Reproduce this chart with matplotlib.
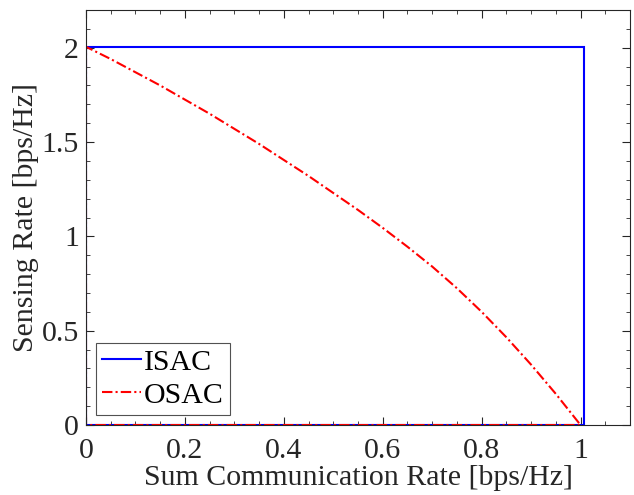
import numpy as np
import matplotlib.pyplot as plt

plt.rcParams['font.family'] = ['Liberation Serif', 'DejaVu Serif']

# ISAC region corner
isac_comm = 1.006
isac_sens = 2.005

# OSAC boundary
osac_comm = [0.0, 0.05, 0.1, 0.15, 0.2, 0.25, 0.3, 0.35, 0.4, 0.45, 0.5,
             0.55, 0.6, 0.65, 0.7, 0.75, 0.8, 0.85, 0.9, 0.95, 1.0]
osac_sens = [2.005, 1.94, 1.87, 1.80, 1.725, 1.65, 1.57, 1.49, 1.405, 1.32, 1.23,
             1.14, 1.045, 0.945, 0.84, 0.725, 0.60, 0.465, 0.32, 0.165, 0.0]

xticks = [0, 0.2, 0.4, 0.6, 0.8, 1]
yticks = [0, 0.5, 1, 1.5, 2]

fs = 21.5

fig = plt.figure(figsize=(6.34, 4.95), dpi=100)
ax = fig.add_axes([86/634, 70/495, (630-86)/634, (425-10)/495])

# regions closed along the axes
ix = [0, 0, isac_comm, isac_comm, 0]
iy = [0, isac_sens, isac_sens, 0, 0]
ax.plot(ix, iy, color='#0000ff', lw=1.5, label='ISAC', solid_joinstyle='miter')

ox = [0] + osac_comm + [0]
oy = [0] + osac_sens + [0]
ax.plot(ox, oy, color='#ff0000', lw=1.5, ls=(0, (5, 1.5, 1, 1.5)), label='OSAC')

ax.set_xlim(0, 1.1)
ax.set_ylim(0, 2.2)
ax.set_xticks(xticks)
ax.set_xticklabels(['0', '0.2', '0.4', '0.6', '0.8', '1'])
ax.set_yticks(yticks)
ax.set_yticklabels(['0', '0.5', '1', '1.5', '2'])
ax.set_xticks(np.arange(0, 1.1001, 0.05), minor=True)
ax.set_yticks(np.arange(0, 2.2001, 0.1), minor=True)

for s in ax.spines.values():
    s.set_color('#262626')
    s.set_linewidth(0.8)
ax.tick_params(which='both', direction='in', top=True, right=True,
               colors='#262626', labelsize=fs)
ax.tick_params(which='major', length=6, width=0.8)
ax.tick_params(which='minor', length=3, width=0.6)
ax.tick_params(axis='x', pad=9)
ax.tick_params(axis='y', pad=5)

ax.set_xlabel('Sum Communication Rate [bps/Hz]', fontsize=fs, color='#262626', labelpad=1)
ax.set_ylabel('Sensing Rate [bps/Hz]', fontsize=fs, color='#262626', labelpad=2)

leg = ax.legend(loc='lower left', fontsize=fs, frameon=True, fancybox=False,
                borderaxespad=0.35, handlelength=1.3, handletextpad=0.1,
                borderpad=0.2, labelspacing=0.2)
leg.get_frame().set_edgecolor('#262626')
leg.get_frame().set_linewidth(0.8)

fig.savefig('out.png', dpi=100)
